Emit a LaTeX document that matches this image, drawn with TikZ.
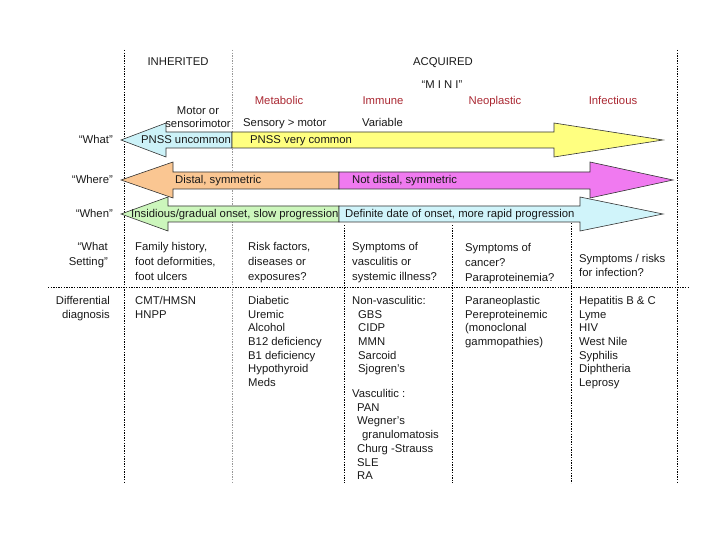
\documentclass[tikz,border=0pt]{standalone}
\usepackage{fontspec}
\setmainfont{Liberation Sans}
\usetikzlibrary{calc}

\definecolor{whatblue}{RGB}{204,242,248}
\definecolor{whatyellow}{RGB}{255,255,128}
\definecolor{whereorange}{RGB}{250,198,146}
\definecolor{wheremagenta}{RGB}{240,122,240}
\definecolor{whengreen}{RGB}{204,246,188}
\definecolor{whenblue}{RGB}{208,244,250}
\definecolor{minired}{RGB}{170,40,50}

\newcommand{\dxfont}{\fontsize{11.3}{13.7}\selectfont}

\tikzset{
	every node/.style={font=\dxfont, inner sep=0pt, text=black!90},
	colhead/.style={anchor=base, text=minired},
	cell/.style={anchor=north west, align=left},
	settingcell/.style={cell, font=\fontsize{11.3}{15}\selectfont},
	grid/.style={line width=0.7pt, dash pattern=on 1.4pt off 1.2pt},
	thingrid/.style={grid, black!40},
	band/.style={draw=black!80, line width=0.6pt},
}

\begin{document}
\begin{tikzpicture}[x=1pt,y=-1pt]
		\useasboundingbox (0,0) rectangle (720,540);

		% dashed frame
		\draw[grid] (124,50) -- (124,483);
		\draw[thingrid] (232,50) -- (232,483);
		\draw[grid] (344,225) -- (344,483);
		\draw[grid] (452,225) -- (452,483);
		\draw[grid] (571,223) -- (571,483);
		\draw[grid] (677,50) -- (677,483);
		\draw[grid] (48,287) -- (688,287);

		% "What"
		\draw[band, fill=whatblue] (232,132) -- (166,132) -- (166,123) -- (121,140)
			-- (166,157) -- (166,148) -- (232,148) -- cycle;
		\draw[band, fill=whatyellow] (232,132) -- (554,132) -- (554,123) -- (663,140)
			-- (554,157) -- (554,148) -- (232,148) -- cycle;

		% "When"
		\draw[band, fill=whengreen] (339,206) -- (168,206) -- (168,197) -- (121,214)
			-- (168,231) -- (168,222) -- (339,222) -- cycle;
		\draw[band, fill=whenblue] (339,206) -- (580,206) -- (580,197) -- (663,214)
			-- (580,231) -- (580,222) -- (339,222) -- cycle;

		% "Where"
		\draw[band, fill=whereorange] (339,172) -- (173,172) -- (173,162) -- (121,180)
			-- (173,198) -- (173,189) -- (339,189) -- cycle;
		\draw[band, fill=wheremagenta] (339,172) -- (590,172) -- (590,162) -- (673,180)
			-- (590,198) -- (590,189) -- (339,189) -- cycle;

		\node[anchor=base] (inherited) at (178,66) {INHERITED};
		\node[anchor=base] (acquired)  at (443,66) {ACQUIRED};
		\node[anchor=base] (mini)      at (442,89) {“M I N I”};

		\node[colhead] (metabolic)  at (279,105) {Metabolic};
		\node[colhead] (immune)     at (383,105) {Immune};
		\node[colhead] (neoplastic) at (495,105) {Neoplastic};
		\node[colhead] (infectious) at (613,105) {Infectious};

		\node[anchor=north, align=center, font=\fontsize{11.3}{13}\selectfont]
			(motor) at (198,107) {Motor or\\sensorimotor};
		\node[anchor=base west] (sensory)  at (243,127) {Sensory > motor};
		\node[anchor=base west] (variable) at (362,127) {Variable};

		\node[anchor=base east] (what)  at (113,144) {“What”};
		\node[anchor=base east] (where) at (113,184) {“Where”};
		\node[anchor=base east] (when)  at (113,218) {“When”};

		\node[anchor=base]      (pnssrare)   at (186,144) {PNSS uncommon};
		\node[anchor=base west] (pnsscommon) at (250,144) {PNSS very common};
		\node[anchor=base west] (distal)     at (175,184) {Distal, symmetric};
		\node[anchor=base west] (notdistal)  at (352,184) {Not distal, symmetric};
		\node[anchor=base west] (insidious)  at (131,218) {Insidious/gradual onset, slow progression};
		\node[anchor=base west] (definite)   at (345,218) {Definite date of onset, more rapid progression};

		% setting row
		\node[anchor=north east, align=right, font=\fontsize{11.3}{15}\selectfont]
			(setting) at (108,242) {“What\\Setting”};
		\node[settingcell] (famhist) at (135,242) {Family history,\\foot deformities,\\foot ulcers};
		\node[settingcell] (risk)    at (248,242) {Risk factors,\\diseases or\\exposures?};
		\node[settingcell] (vasc)    at (352,242) {Symptoms of\\vasculitis or\\systemic illness?};
		\node[settingcell] (cancer)  at (465,243) {Symptoms of\\cancer?\\Paraproteinemia?};
		\node[cell, font=\fontsize{11.3}{14}\selectfont]
			(infect) at (579,254) {Symptoms / risks\\for infection?};

		% differential row
		\node[anchor=north east, align=right] (diffdx) at (110,296) {Differential\\diagnosis};
		\node[cell] (inheritdx) at (135,296) {CMT/HMSN\\HNPP};
		\node[cell] (metabdx)   at (248,296) {Diabetic\\Uremic\\Alcohol\\B12 deficiency\\B1 deficiency\\Hypothyroid\\Meds};
		\node[cell] (immunedx)  at (352,296) {Non-vasculitic:\\
			\hspace*{6pt}GBS\\\hspace*{6pt}CIDP\\\hspace*{6pt}MMN\\\hspace*{6pt}Sarcoid\\\hspace*{6pt}Sjogren’s\\[11pt]
			Vasculitic :\\\hspace*{5pt}PAN\\\hspace*{5pt}Wegner’s\\\hspace*{10pt}granulomatosis\\
			\hspace*{5pt}Churg -Strauss\\\hspace*{5pt}SLE\\\hspace*{5pt}RA};
		\node[cell] (neodx)     at (465,296) {Paraneoplastic\\Pereproteinemic\\(monoclonal\\gammopathies)};
		\node[cell] (infectdx)  at (579,296) {Hepatitis B \& C\\Lyme\\HIV\\West Nile\\Syphilis\\Diphtheria\\Leprosy};

	\end{tikzpicture}
\end{document}
